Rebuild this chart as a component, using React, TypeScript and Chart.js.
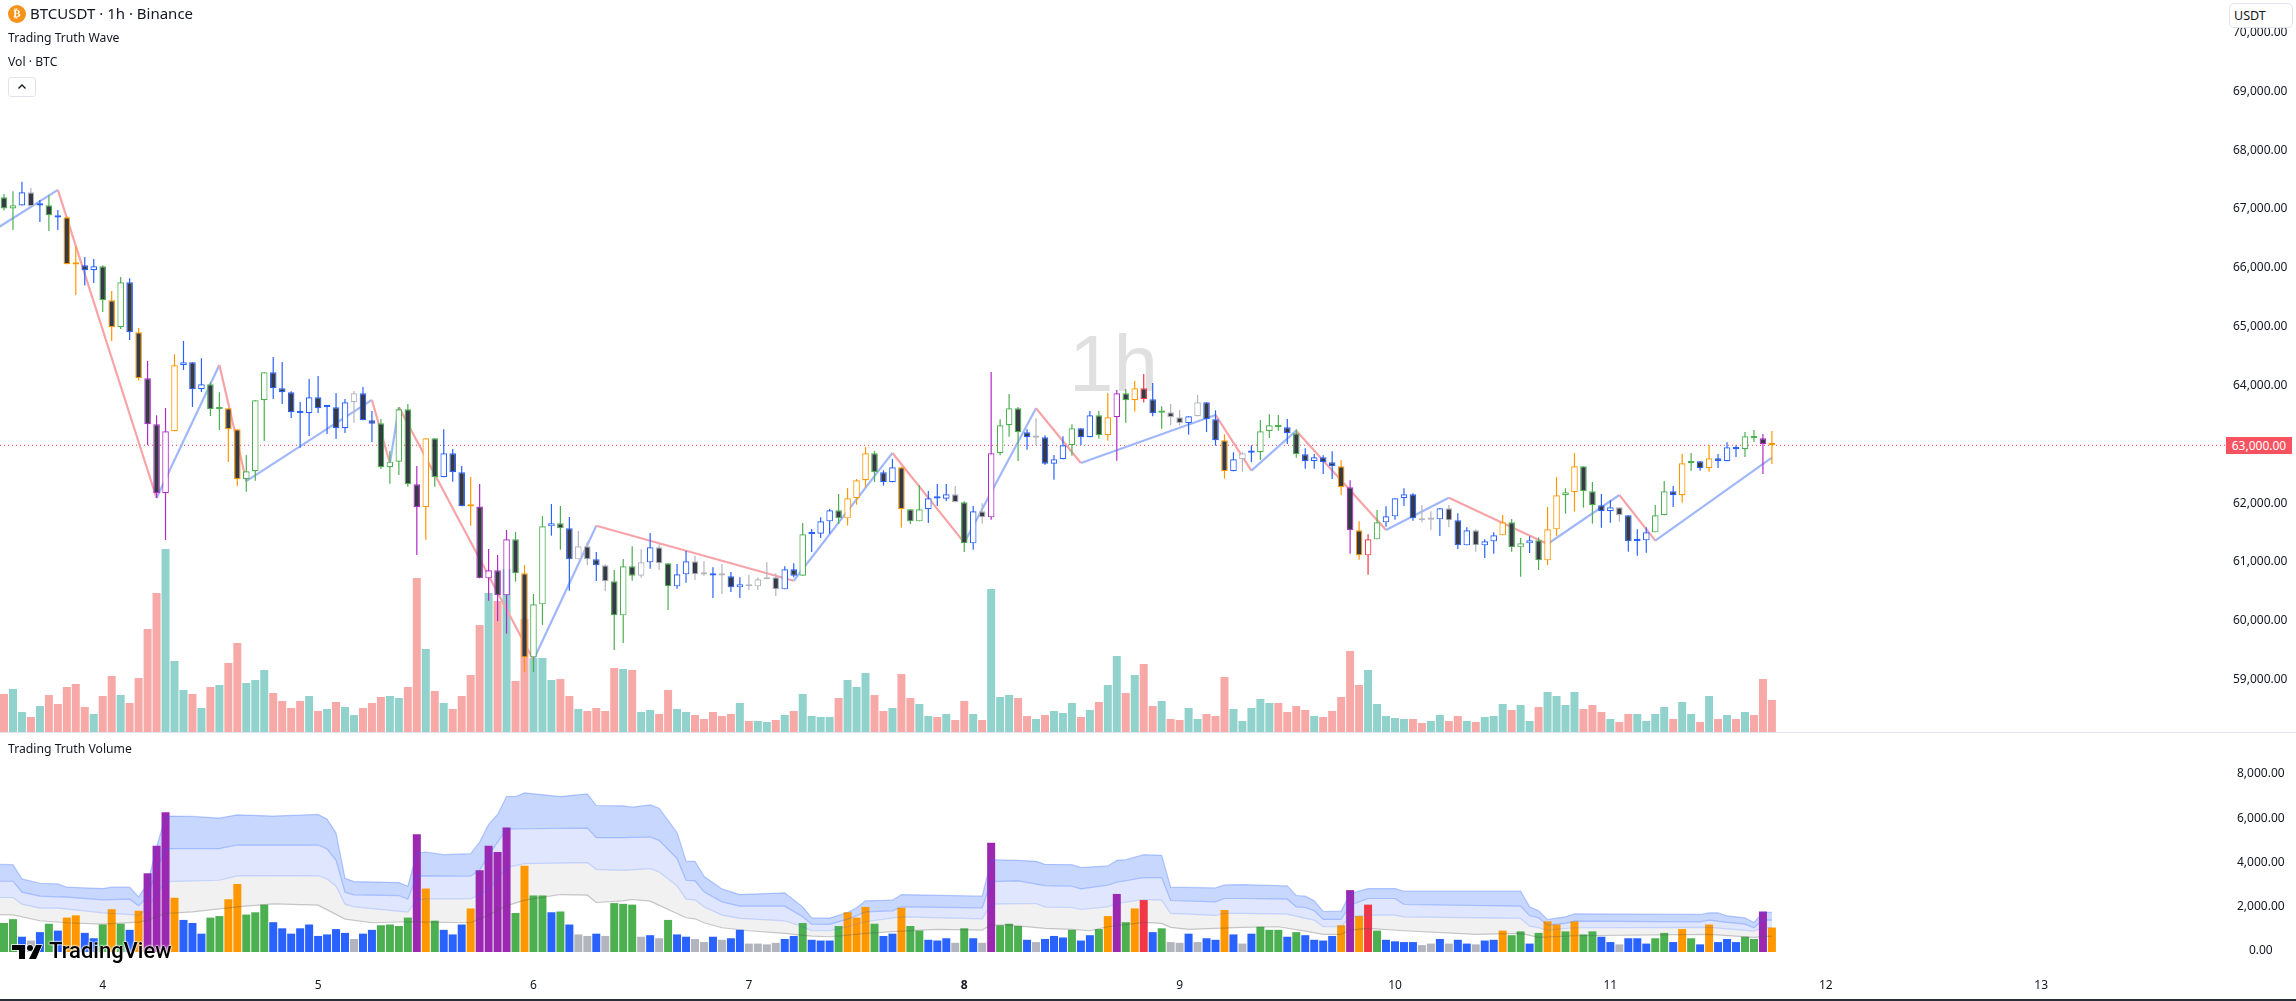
import { useEffect, useRef } from 'react';
import { Chart, registerables } from 'chart.js';

Chart.register(...registerables);

const FONT = '"Noto Sans", sans-serif';
const TEXT = '#131722';

const opens = [67218,67025,67076,67303,67076,67082,66912,66878,66080,66061,65976,66044,65466,65007,65772,64922,64139,63357,62184,63238,64361,64412,63952,64037,63612,63629,63272,62422,62558,63765,64242,63969,63901,63555,63544,63816,63650,63646,63289,63731,63884,63425,63374,62626,62722,63612,62337,61946,63119,62456,62864,62541,61968,61960,60738,60874,60449,61401,60823,59395,60296,61622,61673,61588,61061,61282,61061,60959,60687,60109,60942,60783,61010,61265,60993,60602,60806,61027,60808,60792,60790,60772,60585,60636,60602,60721,60755,60551,60891,60783,61490,61498,61707,61895,61758,62099,62405,62864,62541,62371,62626,61912,61707,61912,62105,62090,62167,62031,61333,61878,61775,62864,63340,63629,63221,63130,63136,62688,62762,63000,63289,63136,63510,63170,63476,63884,63765,63969,63782,63555,63561,63476,63374,63493,63731,63442,63085,62558,62762,62875,62881,63238,63340,63306,63204,62847,62728,62796,62711,62643,62286,61554,61129,61401,61690,61792,62099,62167,61758,61735,61741,61929,61724,61299,61554,61299,61367,61469,61690,61265,61333,61384,61044,61571,62150,62201,62643,62218,61980,61878,61946,61810,61372,61384,61520,61810,62218,62150,62694,62728,62609,62779,62728,62966,62932,63153,63119,63017];
const highs = [67274,67320,67479,67376,67172,67252,67002,66889,66379,66203,66169,66061,65625,65863,65840,64995,64434,63510,63635,64548,64774,64412,64480,64071,63901,63629,63272,62836,63765,64242,64502,64417,63918,63737,64128,64179,63663,63890,63788,63924,63992,63584,63448,62904,63646,63703,62649,63119,63119,63272,62938,62649,62461,62342,61237,61135,61560,61526,60965,60472,61798,62002,61968,61781,61543,61362,61186,60976,60880,61067,61282,61231,61509,61316,60993,60982,61203,61118,61033,60925,60982,60846,60755,60795,60755,61016,60823,60942,60993,61679,61577,61775,61917,62172,62274,62427,62972,62904,62575,62768,62637,61912,62320,62223,62342,62342,62308,62048,61968,62014,64247,63442,63873,63652,63272,63459,63170,62836,63153,63357,63289,63584,63584,63890,63941,63958,64094,64213,64060,63663,63703,63601,63493,63856,63731,63595,63187,62881,62881,63000,63431,63527,63516,63448,63272,62949,62853,62830,62898,62751,62405,61707,61486,61900,61963,62099,62269,62184,61985,61878,61929,61985,61844,61605,61571,61401,61520,61815,61747,61424,61452,61435,61951,62461,62269,62870,62643,62376,62172,62065,61946,61810,61571,61605,61985,62393,62308,62853,62870,62728,63005,62853,63051,63000,63227,63261,63193,63244];
const lows = [66991,66662,67076,67065,66798,66645,66662,66078,65557,65715,65761,65268,64774,64978,64791,64100,63006,62104,61390,63238,64281,63652,63907,63499,63261,62717,62308,62212,62399,63074,63788,63703,63465,62960,63159,63550,63193,63108,63210,63385,63425,63057,62598,62348,62495,62297,61135,61396,62297,62456,62382,61963,61634,60738,60358,60012,59797,60681,59145,59145,59944,61464,61226,60528,61061,60965,60693,60523,59519,59638,60698,60749,60902,60880,60200,60562,60664,60710,60783,60404,60472,60506,60404,60540,60540,60721,60438,60551,60755,60783,61186,61424,61498,61662,61634,61991,62286,62376,62314,62371,61600,61662,61707,61679,61968,62053,62031,61186,61226,61668,61736,62830,63147,62734,62926,63000,62671,62416,62762,62824,63005,63136,63113,63079,62739,63385,63573,63726,63493,63283,63340,63340,63181,63493,63227,62994,62433,62558,62552,62717,62751,63125,63249,63023,62790,62603,62603,62512,62427,62155,61158,61056,60800,61401,61617,61736,61968,61719,61690,61560,61458,61605,61237,61299,61192,61084,61158,61469,61192,60766,61169,60880,60965,61458,61838,61872,61940,61668,61600,61685,61702,61192,61124,61175,61520,61810,61951,62025,62569,62569,62552,62615,62728,62802,62802,63057,62512,62683];
const closes = [67025,67082,67303,67065,67085,66912,66872,66078,66075,65976,66044,65466,65007,65772,64922,64139,63357,62184,63238,64361,64412,63952,64037,63612,63622,63272,62422,62558,63765,64242,63969,63901,63561,63548,63816,63629,63655,63289,63731,63884,63425,63368,62626,62722,63612,62337,61946,63119,62456,62864,62541,61963,61960,60738,60874,60449,61401,60823,59395,60296,61622,61673,61588,61061,61282,61061,60959,60687,60109,60942,60783,61010,61265,60993,60602,60806,61027,60806,60804,60786,60786,60585,60636,60602,60721,60755,60551,60891,60783,61486,61500,61707,61895,61758,62099,62405,62864,62541,62371,62626,61912,61707,61912,62099,62095,62167,62031,61333,61878,61775,62864,63340,63629,63221,63136,63140,62688,62762,63000,63289,63136,63510,63170,63476,63884,63765,63969,63782,63544,63565,63476,63374,63493,63731,63442,63085,62558,62762,62864,62885,63238,63340,63306,63204,62847,62728,62796,62711,62643,62286,61554,61129,61401,61690,61792,62099,62167,61758,61724,61745,61929,61724,61299,61554,61299,61367,61469,61690,61265,61333,61384,61044,61571,62150,62201,62643,62218,61980,61878,61946,61810,61367,61382,61520,61810,62218,62150,62694,62728,62609,62779,62728,62966,62932,63153,63119,63017,63000];
const volumes = [1311,1484,690,518,897,1277,966,1553,1656,863,621,1242,1932,1277,1001,1863,3554,4796,6314,2450,1449,1311,828,1553,1622,2381,3071,1691,1794,2139,1346,1070,828,1070,1242,725,794,1035,863,587,828,1001,1208,1242,1173,1553,5313,2864,1415,1001,794,1242,1967,3692,4796,4520,5625,1760,3899,2553,2553,1794,1829,1242,794,725,828,725,2208,2174,2139,690,759,621,1449,794,690,587,449,690,552,621,1001,380,380,345,414,587,725,1311,552,518,518,1173,1794,1553,2036,1277,725,828,2001,1173,966,552,518,621,414,1070,621,414,4934,1208,1277,1173,552,449,587,725,656,1001,518,759,1035,1622,2622,1346,1967,2346,897,1070,449,414,828,449,621,552,1898,794,380,828,1139,1001,1001,690,897,759,552,518,725,1208,2795,1622,2139,966,552,483,449,449,311,380,587,380,552,380,345,518,552,966,759,932,380,863,1380,1242,932,1380,794,932,690,449,345,621,621,380,621,863,449,1035,621,345,1242,449,587,449,690,587,1829,1104];
// g green, b blue, o orange, s grey, p purple, r red
const candleKinds = 'g g b s b g b o o b b g o g b o p p p o b b b g g o o g g g b b b b b b b b b s b b g g g g p o g b b b o p p p p g o g g b g b s s b s g g g s b s g b b s s b s b b s s s s b b g b b b g o o o g b b o g g b b b s g b s p g g g b s b b b g b b g o p g o r b g s s b s b b o b s b g g g b g b b b b o p o r g b b b b s s b s b b s b b o g g b g o o g o g g b b s b b b g g b o g b o b b b g g p o'.split(' ');

const waveIdx = [-1,6,17,24,27,41,43,44,59,66,88,99,107,115,120,135,139,144,154,161,172,180,184,197];
const wavePrice = [66668,67342,62104,64366,62390,63771,62694,63650,59350,61633,60698,62870,61345,63629,62700,63516,62569,63249,61560,62110,61322,62155,61379,62790];

const band1Idx = [-1,1,2,4,6,7,11,12,14,15,16,17,18,21,24,26,30,35,36,37,38,39,44,45,46,47,49,52,53,54,55,56,57,58,62,65,66,69,70,72,73,75,76,77,78,80,82,87,89,90,92,94,95,96,99,100,109,110,113,115,116,119,120,123,124,125,127,129,130,135,136,138,143,144,145,146,147,149,150,152,155,156,169,170,171,172,174,175,189,190,191,192,194,195,196,197];
const band1 = [3960,3945,3300,3105,3075,2925,2865,2925,2925,2490,3090,4740,6135,6120,6045,6195,6135,6210,6000,5370,3330,3180,3135,2970,4470,4515,4395,4440,4965,5760,6210,7020,7020,7185,7020,7140,6615,6600,6540,6645,6495,5400,4110,4095,3420,2850,2595,2670,2040,1545,1530,1785,1995,2310,2340,2595,2520,4170,4140,4095,3960,3945,3810,3885,4140,4170,4395,4365,2925,2895,3030,3045,2985,2550,2520,2310,1830,1845,2640,2865,2865,2745,2745,2040,1860,1470,1590,1725,1695,1770,1770,1635,1545,1335,1785,1785];
const band2Idx = [-1,1,2,4,6,7,11,14,15,16,17,18,24,26,35,36,37,38,39,44,45,46,52,53,54,56,58,65,66,69,72,73,75,76,77,78,80,82,87,89,90,92,94,95,96,99,100,109,110,113,116,119,120,123,124,127,129,130,135,136,138,143,144,145,146,147,149,150,152,155,156,169,170,171,172,174,175,189,190,192,194,195,196,197];
const band2 = [3195,3195,2700,2520,2490,2475,2355,2385,2085,2490,3690,4665,4665,4830,4830,4650,4140,2700,2580,2550,2385,3435,3420,3690,4365,5550,5565,5595,5160,5160,5190,5040,4215,3240,3210,2715,2265,2070,2070,1590,1260,1245,1485,1635,1815,1860,2040,1995,3180,3210,3000,2970,2850,3015,3150,3360,3360,2325,2265,2415,2415,2385,2040,2010,1860,1470,1470,2115,2415,2415,2145,2070,1635,1545,1215,1290,1395,1365,1440,1335,1260,1095,1440,1440];
const band3Idx = [-1,1,2,4,6,11,15,16,17,18,24,26,35,36,37,38,39,45,46,47,52,54,56,58,65,66,69,72,73,75,76,77,78,80,82,87,89,90,92,94,96,100,109,110,115,116,119,120,123,124,127,129,130,135,136,138,143,145,146,147,149,150,152,155,156,169,170,171,172,175,190,195,196,197];
const band3 = [2460,2460,2160,1980,1980,1770,1665,1965,2640,3180,3240,3435,3450,3300,2970,2160,2040,1800,2340,2400,2400,2790,3810,3990,4035,3735,3690,3765,3615,2985,2385,2355,2040,1665,1515,1410,1140,960,960,1140,1365,1590,1500,2160,2190,2025,2010,1920,2040,2190,2370,2340,1740,1650,1740,1740,1710,1515,1440,1140,1140,1590,1665,1665,1590,1515,1170,1095,990,1095,1110,945,1095,1095];
const band4Idx = [-1,1,4,7,11,15,16,18,21,26,30,35,38,41,45,52,54,56,58,62,65,66,69,70,72,76,77,78,80,83,87,90,92,94,96,100,104,109,110,112,116,119,121,123,127,129,130,132,138,142,145,147,149,150,152,156,164,169,171,175,190,195,197];
const band4 = [1695,1680,1410,1320,1260,1350,1440,1740,1815,2040,2175,2115,1485,1320,1365,1320,1665,2085,2340,2595,2565,2235,2310,2370,2295,1545,1500,1320,1095,960,840,720,690,765,840,945,1020,990,1215,1215,1065,1020,960,1140,1335,1290,1110,1020,1110,1140,945,795,795,990,1065,960,795,840,660,735,795,660,720];

const priceTicks = [59000,60000,61000,62000,64000,65000,66000,67000,68000,69000,70000];
const volumeTicks = [0,2000,4000,6000,8000];
const dayIdx = [11,35,59,83,107,131,155,179,203,227];
const dayLabels = ['4','5','6','7','8','9','10','11','12','13'];
const lastPrice = 63000;

const kindColors: Record<string, string> = { g: '#4caf50', b: '#2962ff', o: '#ff9800', s: '#b2b5be', p: '#b02cc8', r: '#f23645' };
const barColors: Record<string, string> = { ...kindColors, p: '#9c27b0' };

const xRange = { min: -0.446, max: 247.6 };
const pts = (xs: number[], ys: number[]) => xs.map((x, i) => ({ x, y: ys[i] }));
const fmt = (v: number) => v.toLocaleString('en-US', { minimumFractionDigits: 2, maximumFractionDigits: 2 });
// the axis labels must not push the plot area in from the canvas edges
const noEdgePadding = (s: any) => {
  s.paddingTop = 0;
  s.paddingBottom = 0;
  s.paddingLeft = 0;
  s.paddingRight = 0;
};

export default function App() {
  const mainRef = useRef<HTMLCanvasElement | null>(null);
  const lowerRef = useRef<HTMLCanvasElement | null>(null);

  useEffect(() => {
    if (!mainRef.current || !lowerRef.current) return;

    const bodies = {
      type: 'bar',
      order: 1,
      grouped: false,
      barThickness: 6.6,
      minBarLength: 2.2,
      borderWidth: 1.2,
      borderSkipped: false,
      inflateAmount: 0,
      data: opens.map((o, i) => ({ x: i, y: [o, closes[i]] })),
      backgroundColor: opens.map((o, i) => (closes[i] >= o ? '#ffffff' : '#363a45')),
      borderColor: candleKinds.map((k) => kindColors[k]),
    };
    const wicks = {
      type: 'bar',
      order: 2,
      grouped: false,
      barThickness: 1.2,
      inflateAmount: 0,
      data: highs.map((h, i) => ({ x: i, y: [lows[i], h] })),
      backgroundColor: candleKinds.map((k) => kindColors[k]),
    };
    const wave = {
      type: 'line',
      order: 3,
      data: pts(waveIdx, wavePrice),
      borderWidth: 2.2,
      pointRadius: 0,
      borderColor: '#a0b8fb',
      segment: {
        borderColor: (ctx: any) => (ctx.p1.parsed.y > ctx.p0.parsed.y ? '#a0b8fb' : '#f8a3a8'),
      },
    };
    const priceLine = {
      type: 'line',
      order: 4,
      data: [{ x: xRange.min, y: lastPrice }, { x: xRange.max, y: lastPrice }],
      borderColor: '#f23645',
      borderWidth: 1,
      borderDash: [1, 3],
      pointRadius: 0,
    };
    const volumeBars = {
      type: 'bar',
      order: 5,
      yAxisID: 'yVol',
      grouped: false,
      barThickness: 8,
      inflateAmount: 0,
      data: volumes.map((v, i) => ({ x: i, y: v })),
      backgroundColor: opens.map((o, i) => (closes[i] >= o ? '#92d2cc' : '#f7a9a7')),
    };

    const main = new Chart(mainRef.current, {
      type: 'bar',
      data: { datasets: [bodies, wicks, wave, priceLine, volumeBars] as any },
      options: {
        responsive: false,
        animation: false,
        events: [],
        layout: { padding: 0 },
        plugins: { legend: { display: false }, tooltip: { enabled: false } },
        scales: {
          x: { type: 'linear', ...xRange, offset: false, display: false },
          y: {
            type: 'linear',
            position: 'right',
            min: 58126,
            max: 70570,
            beginAtZero: false,
            grid: { display: false, drawTicks: false },
            border: { display: false },
            afterFit: (s: any) => { s.width = 70; noEdgePadding(s); },
            afterBuildTicks: (s: any) => { s.ticks = priceTicks.map((value) => ({ value })); },
            ticks: {
              autoSkip: false,
              padding: 7,
              labelOffset: -1,
              color: TEXT,
              font: { family: FONT, size: 12 },
              callback: (v: any) => fmt(Number(v)),
            },
          },
          yVol: { type: 'linear', display: false, min: 0, max: 25254 },
        },
      } as any,
    });

    const bandStyle = (xs: number[], ys: number[], line: string, fill: any, bg: string) => ({
      type: 'line',
      order: 1,
      data: pts(xs, ys),
      borderColor: line,
      borderWidth: 1.2,
      pointRadius: 0,
      fill,
      backgroundColor: bg,
    });

    const lower = new Chart(lowerRef.current, {
      type: 'bar',
      data: {
        datasets: [
          bandStyle(band1Idx, band1, 'rgba(41,98,255,0.3)', '+1', '#c8d7fe'),
          bandStyle(band2Idx, band2, 'rgba(41,98,255,0.3)', '+1', '#dfe6fe'),
          bandStyle(band3Idx, band3, 'rgba(41,98,255,0.2)', '+1', '#f1f1f1'),
          bandStyle(band4Idx, band4, 'rgba(80,80,80,0.3)', false, 'transparent'),
          {
            type: 'bar',
            order: 2,
            grouped: false,
            barThickness: 8,
            inflateAmount: 0,
            data: volumes.map((v, i) => ({ x: i, y: v })),
            backgroundColor: candleKinds.map((k) => barColors[k]),
          },
        ] as any,
      },
      options: {
        responsive: false,
        animation: false,
        events: [],
        layout: { padding: 0 },
        plugins: {
          legend: { display: false },
          tooltip: { enabled: false },
          filler: { propagate: false, drawTime: 'beforeDatasetsDraw' },
        },
        scales: {
          x: {
            type: 'linear',
            ...xRange,
            offset: false,
            position: 'bottom',
            grid: { display: false, drawTicks: false },
            border: { display: false },
            afterFit: (s: any) => { s.height = 33; noEdgePadding(s); },
            afterBuildTicks: (s: any) => { s.ticks = dayIdx.map((value) => ({ value })); },
            ticks: {
              autoSkip: false,
              maxRotation: 0,
              padding: 10,
              color: TEXT,
              font: (ctx: any) => ({ family: FONT, size: 12, weight: ctx.tick && ctx.tick.value === 107 ? 'bold' : 'normal' }),
              callback: (v: any) => dayLabels[dayIdx.indexOf(Number(v))],
            },
          },
          y: {
            type: 'linear',
            position: 'right',
            min: -722,
            max: 9888,
            beginAtZero: false,
            grid: { display: false, drawTicks: false },
            border: { display: false },
            afterFit: (s: any) => { s.width = 70; noEdgePadding(s); },
            afterBuildTicks: (s: any) => { s.ticks = volumeTicks.map((value) => ({ value })); },
            ticks: {
              autoSkip: false,
              padding: 11,
              labelOffset: -1,
              crossAlign: 'center',
              color: TEXT,
              font: { family: FONT, size: 12 },
              callback: (v: any) => fmt(Number(v)),
            },
          },
        },
      } as any,
    });

    return () => {
      main.destroy();
      lower.destroy();
    };
  }, []);

  const label = { position: 'absolute', color: TEXT, fontFamily: FONT, whiteSpace: 'nowrap', lineHeight: 1 } as const;

  return (
    <div style={{ position: 'fixed', left: 0, top: 0, width: 2296, height: 1001, background: '#fff', overflow: 'hidden' }}>
      <div style={{ ...label, left: 1069, top: 324, fontSize: 80, fontFamily: '"Liberation Sans", sans-serif', color: '#e0e0e0' }}>1h</div>
      <canvas ref={mainRef} width={2296} height={732} style={{ position: 'absolute', left: 0, top: 0 }} />
      <div style={{ position: 'absolute', left: 0, top: 732, width: 2296, height: 1, background: '#e0e3eb' }} />
      <canvas ref={lowerRef} width={2296} height={268} style={{ position: 'absolute', left: 0, top: 733 }} />
      <div style={{ position: 'absolute', left: 0, top: 999, width: 2296, height: 2, background: '#2a2e39' }} />

      <div style={{ position: 'absolute', left: 8, top: 5, width: 18, height: 18, borderRadius: 9, background: '#f7931a', color: '#fff', fontFamily: '"DejaVu Sans"', fontSize: 11, fontWeight: 700, lineHeight: '18px', textAlign: 'center' }}>₿</div>
      <div style={{ ...label, left: 30, top: 6, fontSize: 15 }}>BTCUSDT · 1h · Binance</div>
      <div style={{ ...label, left: 8, top: 32, fontSize: 12.2 }}>Trading Truth Wave</div>
      <div style={{ ...label, left: 8, top: 56, fontSize: 12.2 }}>Vol · BTC</div>
      <div style={{ position: 'absolute', left: 8, top: 77, width: 28, height: 20, boxSizing: 'border-box', border: '1px solid #e0e3eb', borderRadius: 3, background: '#fff' }}>
        <svg width="26" height="18" style={{ display: 'block' }}>
          <polyline points="9.5,10.5 13,7 16.5,10.5" fill="none" stroke={TEXT} strokeWidth="1.4" />
        </svg>
      </div>
      <div style={{ ...label, left: 8, top: 743, fontSize: 12.2 }}>Trading Truth Volume</div>

      <div style={{ position: 'absolute', left: 2229, top: 3, width: 64, height: 25, boxSizing: 'border-box', border: '1px solid #e0e3eb', borderRadius: 5, background: '#fff', color: TEXT, fontFamily: FONT, fontSize: 12.5, lineHeight: '23px', paddingLeft: 4 }}>USDT</div>
      <div style={{ position: 'absolute', left: 2226, top: 437, width: 66, height: 17, background: '#f7525f', color: '#fff', fontFamily: FONT, fontSize: 12, lineHeight: '17px', textAlign: 'center' }}>{fmt(lastPrice)}</div>

      <svg width="32" height="18" viewBox="0 0 32 18" style={{ position: 'absolute', left: 11, top: 943 }}>
        <g fill="#000" stroke="#fff" strokeWidth="1.5" paintOrder="stroke">
          <path d="M1 2h13v14H8V7H1z" />
          <circle cx="19" cy="5" r="3" />
          <path d="M25 2h6l-6 14h-7z" />
        </g>
      </svg>
      <div style={{ ...label, left: 49, top: 940, fontSize: 22, fontWeight: 500, fontFamily: 'Roboto, sans-serif', color: '#000', textShadow: '0 0 2px #fff, 0 0 2px #fff, 0 0 2px #fff' }}>TradingView</div>
    </div>
  );
}
